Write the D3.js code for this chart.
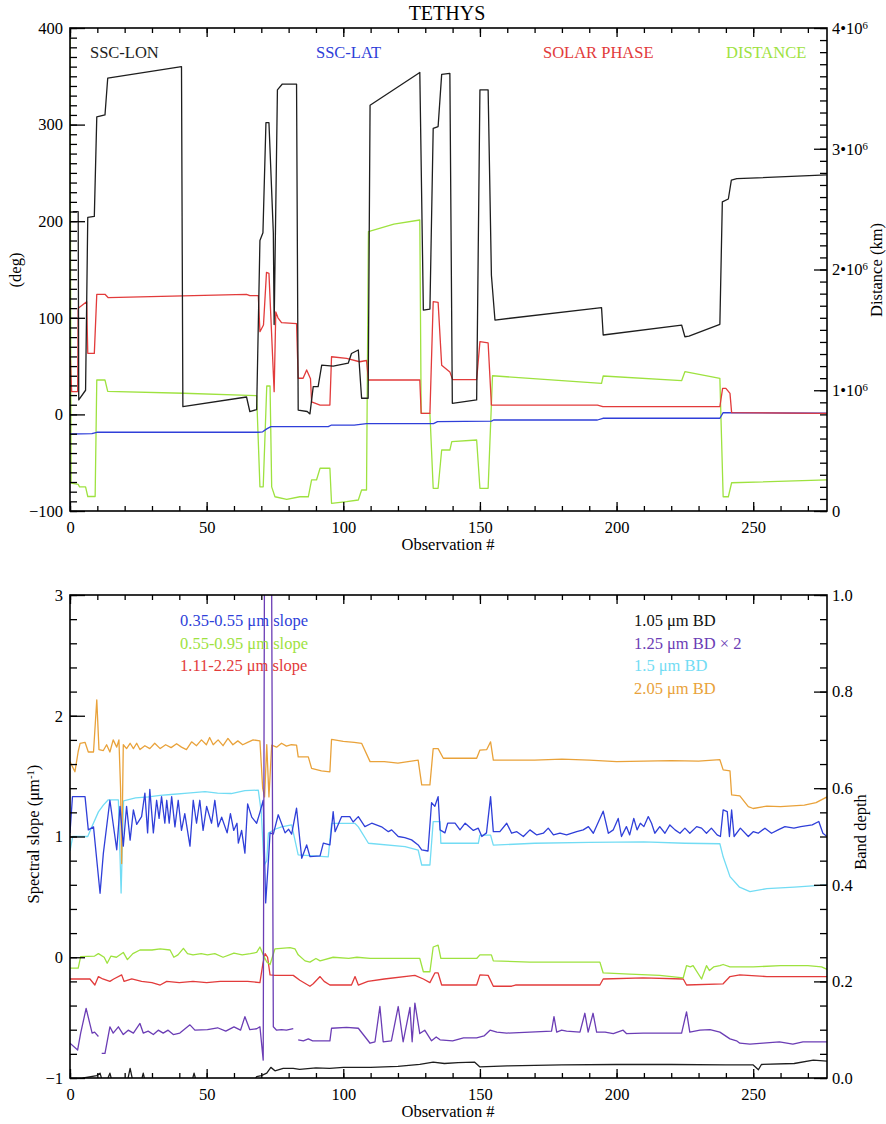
<!DOCTYPE html>
<html><head><meta charset="utf-8">
<script src="https://cdn.jsdelivr.net/npm/d3@7"></script>
<style>
body{margin:0;background:#fff}
text{font-family:"Liberation Serif","Times New Roman",serif}
</style>
</head><body>
<svg id="c" width="886" height="1124"></svg>
<script>
// ---------- DATA (observation #, value) ----------
const obsTicks = [0,50,100,150,200,250];
const degTicks = [-100,0,100,200,300,400];
const distTicks = [0,1e6,2e6,3e6,4e6];
const slopeTicks = [-1,0,1,2,3];
const bdTicks = [0,0.2,0.4,0.6,0.8,1.0];

const topLegend = ["SSC-LON","SSC-LAT","SOLAR PHASE","DISTANCE"];
const slopeLegend = ["0.35-0.55 \u03bcm slope","0.55-0.95 \u03bcm slope","1.11-2.25 \u03bcm slope"];
const bdLegend = ["1.05 \u03bcm BD","1.25 \u03bcm BD \u00d7 2","1.5 \u03bcm BD","2.05 \u03bcm BD"];

// Top panel (deg, left axis)
const sscLon = [[1,210],[3,210],[3.2,15],[5.7,25],[6.5,204],[8.9,205],[9.8,308],[12.8,310],[13.8,348],[40.8,360],[41.3,8],[64.6,18],[65.8,3],[68.3,5],[69.5,180],[70.6,188],[71.7,302],[72.8,302],[74.4,188],[74.7,93],[75.9,336],[77.7,342],[82.9,342],[83.5,4.5],[86.8,3],[87.8,0.5],[89,28.7],[90.8,28.7],[92.1,51],[96.3,50],[101.8,53],[103,63],[105.5,66.7],[106.7,16.7],[109.1,16.7],[109.8,320],[128,354],[129.3,108],[131.7,109],[132.9,296],[134.7,298],[136,352],[139,353],[139.9,11.5],[148.8,15],[150,336],[153,336],[154.2,144],[155.5,97.7],[194.5,110.5],[195.1,82.2],[223.8,92.5],[225,80.4],[226.5,81],[237.8,93.3],[238.7,220],[240.9,223],[242,242.6],[244,244],[276.9,248]];
const sscLat = [[0,-20.3],[8,-20],[9.8,-18.5],[68.9,-18.5],[70.5,-18],[72,-15],[73.5,-12.7],[94.5,-12.7],[95.7,-11],[104,-11],[108.5,-9.5],[133,-9.5],[134.5,-7.5],[154.2,-7],[155,-5.8],[193,-5.8],[195,-4],[237.8,-4],[239,1.8],[277,1.2]];
const solarPhase = [[0,66.7],[0.6,23.5],[2.8,23.5],[3,109.8],[6.1,116.7],[6.5,63.2],[8.9,63.2],[9.8,124.3],[12.8,124.3],[14,120.8],[64.6,124.3],[65.8,123],[68.9,123],[69.5,85.6],[70.8,92.5],[71.9,147],[72.8,146],[74.7,23.5],[75.3,106],[76.1,100],[77.4,95],[82.9,94],[83.5,37.4],[85.3,37.4],[86.6,46],[88,37],[88.4,13],[91.5,9.7],[95.1,9.7],[95.7,59.7],[101.2,58],[106,54.5],[108.5,55.8],[109.2,35.6],[128,35.6],[128.5,1.1],[131.7,1],[132.9,116.7],[134.7,116],[136,51],[139,44],[140,36],[148.8,36],[150,75.3],[153,74],[154.2,9.7],[193,9.7],[195,8],[237.8,8],[238.8,27],[240,27],[241.5,21.8],[242.1,1.8],[277,1.1]];
// Distance (km, right axis)
const distance = [[0,3.95e6],[0.4,0.23e6],[3,0.22e6],[3.5,0.2e6],[5.7,0.2e6],[6.5,0.12e6],[9.2,0.12e6],[9.8,1.085e6],[12.8,1.085e6],[13.8,0.99e6],[41.5,0.975e6],[68.3,0.955e6],[69.5,0.2e6],[70.7,0.2e6],[72,1.035e6],[73.2,1.035e6],[73.8,0.2e6],[75,0.118e6],[79.3,0.097e6],[84.1,0.118e6],[87.2,0.118e6],[88.4,0.257e6],[90.2,0.257e6],[91.5,0.354e6],[95.1,0.354e6],[95.7,0.064e6],[101.2,0.077e6],[105.5,0.091e6],[106.7,0.174e6],[108.5,0.174e6],[109.2,2.313e6],[118.5,2.375e6],[128,2.41e6],[128.5,0.809e6],[131.7,0.809e6],[132.9,0.188e6],[134.7,0.188e6],[136,0.505e6],[139,0.505e6],[139.7,0.574e6],[148.8,0.588e6],[150,0.188e6],[153,0.188e6],[154.6,1.12e6],[194.5,1.057e6],[195.1,1.118e6],[223.8,1.079e6],[225,1.154e6],[237.8,1.099e6],[239,0.118e6],[240.9,0.118e6],[242.1,0.234e6],[277,0.257e6]];

// Bottom panel, spectral slopes (left axis)
const slope035 = [[0,1.03],[0.9,1.33],[5.5,1.33],[6.7,1.055],[8.6,1.08],[11,0.53],[12.2,0.86],[14.6,1.3],[17.1,0.89],[18.3,1.25],[19.5,0.92],[20.7,1.25],[22,0.97],[23.2,1.22],[24.4,1.1],[26.2,1.165],[27.4,1.36],[28.4,1.03],[29.2,1.39],[30.5,1.03],[31.7,1.3],[32.6,1.15],[33.5,1.33],[34.7,1.11],[35.4,1.3],[36.3,1.11],[37.2,1.33],[38.4,1.08],[39.6,1.3],[40.8,1.05],[42,1.19],[43.9,0.92],[45.1,1.3],[46.3,1.11],[47.5,1.3],[48.7,1.05],[50,1.25],[51.8,1.11],[53,1.3],[54.2,1.08],[55.5,1.16],[57.5,1.03],[58.7,1.19],[59.9,1.05],[61.1,1.11],[61.6,0.945],[62.8,1.05],[64,0.862],[65,1.27],[66.5,1.16],[68.3,1.11],[69.5,1.2],[70.7,1.3],[71.6,0.45],[72.6,0.8],[73.2,1.03],[74.4,1.02],[76.2,1.18],[78.7,1.03],[80,1.06],[81.1,1.02],[82.9,1.234],[84.8,0.82],[86.6,0.93],[87.8,0.833],[91.5,0.84],[92.7,0.945],[95.1,0.93],[96.3,1.206],[97,1.04],[99.4,1.165],[102.4,1.165],[103.6,1.12],[105.5,1.165],[107.9,1.082],[110.4,1.11],[114,1.08],[116.5,1.04],[117.7,1.055],[120.1,1.0],[122.5,0.99],[125,0.972],[127.4,0.93],[128.7,0.89],[131,0.88],[132.3,1.28],[133.5,1.25],[134.7,1.33],[135.4,1.055],[137.2,1.03],[138.2,1.11],[140.9,1.11],[142.7,1.055],[144.6,1.11],[147.6,1.05],[149.4,1.069],[150.7,1.0],[152.4,1.03],[153.9,1.33],[154.9,1.04],[157.3,1.04],[159.8,1.11],[161.6,1.027],[163.5,1.04],[165.9,1.0],[168.3,1.055],[170.8,1.013],[173.2,1.027],[175,1.069],[176.9,1.013],[179.3,1.027],[181.7,1.013],[185.4,1.04],[187.8,1.055],[189.7,1.082],[191.5,1.027],[195.1,1.21],[197,1.027],[198.8,1.055],[200.6,1.15],[201.8,1.0],[203.6,1.082],[204.8,1.013],[206.3,1.15],[207.5,1.055],[208.7,1.11],[210,1.082],[211.6,1.165],[212.8,1.11],[214,1.027],[215.8,1.082],[217.7,1.027],[219.5,1.096],[221.4,1.055],[223.2,1.027],[225,1.069],[226.8,1.027],[229.3,1.082],[231.1,1.069],[232.9,1.027],[234.7,1.069],[236.8,1.013],[238,1.0],[239,1.22],[240.5,1.206],[241.3,1.0],[242.1,1.22],[243,1.0],[245.3,1.069],[248.2,1.0],[250,1.04],[251.8,1.027],[254.3,1.069],[256.7,1.027],[259.1,1.055],[261.6,1.082],[264.9,1.069],[267.4,1.082],[271.6,1.096],[274,1.124],[275.5,1.027],[277,1.0]];
const slope055 = [[0,-0.09],[3,-0.09],[3.9,0.005],[9,0.01],[10.4,0.03],[12.5,0.0],[13.6,-0.05],[15,0.01],[17,0.0],[19.5,0.04],[21,-0.02],[23,0.03],[25.6,0.06],[30,0.06],[33,0.07],[36.6,0.06],[38,0.0],[39.5,0.02],[41.5,0.074],[43,0.03],[45,0.02],[48,0.03],[50.3,0.02],[53,0.03],[56,0.0],[60,0.035],[63,0.02],[66,0.03],[68.3,0.04],[69.5,0.085],[70.7,0.02],[72,-0.04],[73.2,-0.06],[75,0.07],[80.5,0.08],[82.3,0.07],[83.5,0.02],[86,-0.03],[87.8,-0.04],[90,-0.01],[91.5,-0.03],[96.3,0.0],[102,-0.01],[105,0.0],[109.8,-0.01],[118,-0.01],[128,-0.01],[129.3,-0.12],[131.7,-0.12],[132.9,0.085],[134.7,0.1],[135.7,-0.01],[148.8,-0.01],[150,0.02],[154.2,0.02],[154.9,-0.03],[168.3,-0.04],[193.9,-0.04],[195.1,-0.13],[204.8,-0.14],[215.8,-0.15],[224.4,-0.17],[225.6,-0.07],[227,-0.08],[228,-0.07],[231.1,-0.18],[232.9,-0.07],[234,-0.11],[235.5,-0.08],[237.8,-0.07],[239,-0.06],[241.5,-0.08],[250,-0.08],[260,-0.07],[270,-0.07],[275,-0.08],[277,-0.1]];
const slope111 = [[0,-0.18],[7.3,-0.18],[9.1,-0.23],[10.4,-0.16],[12,-0.18],[14.6,-0.2],[16,-0.18],[18.9,-0.146],[19.8,-0.2],[22.6,-0.18],[26.2,-0.2],[30,-0.21],[33,-0.23],[35.4,-0.2],[40,-0.21],[45,-0.2],[50,-0.21],[55,-0.2],[60,-0.2],[65,-0.2],[69.5,-0.21],[70.6,-0.05],[71.4,0.03],[72.3,0.0],[73.2,-0.146],[75,-0.15],[81.7,-0.15],[84.1,-0.19],[87.8,-0.24],[89,-0.22],[91.5,-0.16],[93,-0.2],[95.1,-0.23],[103,-0.23],[104.3,-0.16],[105.5,-0.23],[109,-0.2],[115,-0.18],[126.2,-0.15],[129.3,-0.18],[131.7,-0.21],[133.5,-0.13],[134.7,-0.13],[136,-0.23],[148.8,-0.23],[150,-0.146],[153,-0.15],[154.9,-0.24],[161.6,-0.24],[163,-0.23],[193.9,-0.23],[195.1,-0.18],[209.7,-0.17],[224.4,-0.18],[225.6,-0.23],[239,-0.22],[241.5,-0.16],[245.1,-0.146],[255,-0.16],[265,-0.16],[277,-0.16]];

// Bottom panel, band depths (right axis)
const bd105 = [[0,-0.01],[3,-0.005],[4.9,0.0],[9.8,0.005],[11,0.01],[12.5,-0.02],[14.6,0.01],[16,-0.02],[20.5,-0.02],[22,0.02],[23.5,-0.02],[25.5,-0.02],[26.8,0.01],[28,-0.02],[44,-0.02],[45.4,0.01],[46.8,-0.02],[66,-0.02],[68.3,0.003],[70,0.005],[72,0.01],[73.5,0.022],[75,0.015],[78,0.02],[81.7,0.02],[84,0.018],[90,0.021],[95,0.02],[100,0.022],[110,0.022],[120,0.024],[128,0.028],[132.9,0.033],[137,0.03],[142,0.032],[148,0.033],[150,0.023],[160,0.025],[180,0.027],[200,0.028],[220,0.028],[240,0.027],[250,0.027],[251.9,0.017],[253,0.028],[265,0.03],[272,0.037],[277,0.035]];
// 1.25 um BD (plotted x2); null marks a gap
const bd125 = [[0,0.036],[2.8,0.029],[3.9,0.0465],[5.9,0.072],[8.1,0.0465],[9,0.0475],[10.4,0.043],[11,null],[11.6,0.0255],[12.8,0.0255],[14.6,0.053],[15.8,0.0465],[17.7,0.053],[19.5,0.045],[21.3,0.0495],[23.2,0.0465],[25.6,0.0565],[26.8,0.0465],[28.6,0.0485],[30.5,0.045],[32.3,0.0495],[34.1,0.0465],[35.9,0.0495],[37.8,0.045],[40.2,0.0465],[43.9,0.055],[45.7,0.0495],[50.3,0.05],[54,0.052],[57,0.0485],[60,0.053],[62.4,0.0495],[64,0.0635],[65.8,0.05],[68.3,0.051],[69.5,0.053],[70.7,0.0185],[71.4,0.8],[73.4,0.8],[74.4,0.053],[75.6,0.0495],[77.4,0.05],[79.2,0.0495],[81.7,0.051],[82.5,null],[83.5,0.0395],[85.4,0.0385],[87.2,0.0405],[88.8,0.0385],[95.1,0.0385],[95.7,0.0515],[101.2,0.0525],[105.5,0.0515],[109.8,0.036],[111.6,0.0375],[113.4,0.074],[114.6,0.0375],[117.6,0.0385],[120.1,0.074],[121.9,0.0375],[124.4,0.073],[125.2,0.0375],[126.2,0.0775],[128,0.046],[129.8,0.0495],[132.3,0.0385],[134,0.0425],[135.4,0.0395],[140,0.0385],[144,0.0415],[148.8,0.0415],[151.5,0.0435],[153.7,0.0495],[156.2,0.0475],[159.8,0.0465],[168.3,0.0475],[176.2,0.0485],[177.1,0.0635],[178.1,0.0475],[179.9,0.0495],[181.7,0.0485],[186.6,0.0475],[188.4,0.067],[189.6,0.0475],[191.4,0.067],[192.7,0.0475],[195.8,0.0475],[198.8,0.046],[202.4,0.0495],[203.6,0.046],[209.7,0.0465],[217,0.0465],[223.8,0.0465],[225.6,0.0685],[226.8,0.0475],[230.5,0.0495],[234.2,0.05],[237.8,0.0475],[241.5,0.0405],[243.9,0.0385],[245.1,0.036],[248.8,0.035],[253.6,0.036],[259.6,0.0375],[264.5,0.035],[268.2,0.0375],[277,0.0375]];
const bd15 = [[0,0.47],[1,0.5],[6.5,0.5],[8,0.52],[10.4,0.551],[12.2,0.565],[14,0.576],[17.7,0.576],[18.7,0.383],[19.6,0.574],[24,0.58],[28.7,0.582],[33,0.585],[37,0.587],[43,0.59],[49.4,0.593],[54,0.59],[59,0.589],[64,0.595],[68.9,0.596],[70,0.55],[71,0.44],[72,0.45],[72.6,0.507],[75,0.515],[77.4,0.52],[81.1,0.524],[83.5,0.462],[94.5,0.458],[95.7,0.527],[104.3,0.527],[105.5,0.52],[109.2,0.486],[122.6,0.479],[127.4,0.472],[128.7,0.441],[131.7,0.441],[132.9,0.531],[135.4,0.531],[135.7,0.486],[149.4,0.486],[150,0.503],[153.9,0.503],[154.9,0.482],[170,0.486],[190,0.488],[210,0.489],[225,0.486],[237.8,0.485],[239,0.458],[241.5,0.417],[245,0.395],[248.8,0.386],[255,0.392],[265,0.395],[277,0.4]];
const bd205 = [[0,0.655],[1.8,0.634],[3,0.676],[3.7,0.693],[5.5,0.695],[6.7,0.675],[8.6,0.675],[9.8,0.783],[10.6,0.68],[12.2,0.678],[13.4,0.69],[14.6,0.675],[15.8,0.7],[17.1,0.685],[17.9,0.7],[18.5,0.6],[18.9,0.444],[19.5,0.69],[20.7,0.682],[22,0.693],[23.2,0.682],[24.4,0.693],[25.6,0.68],[27.4,0.688],[29.2,0.682],[31,0.693],[33,0.682],[35,0.69],[37,0.684],[39,0.692],[40.8,0.685],[42.6,0.68],[44.5,0.696],[46.3,0.688],[48.1,0.7],[49.9,0.69],[51.1,0.705],[52.4,0.69],[54.2,0.7],[56,0.688],[57.8,0.703],[59.6,0.69],[61.4,0.698],[63.2,0.69],[65,0.695],[67,0.7],[69.5,0.698],[70.5,0.6],[71.2,0.582],[72,0.69],[72.8,0.582],[73.8,0.689],[75.6,0.685],[77.4,0.693],[79.2,0.687],[81,0.69],[82.9,0.689],[83.5,0.665],[87.2,0.665],[88.4,0.641],[92,0.636],[95.1,0.634],[95.7,0.701],[100,0.697],[104,0.695],[106.7,0.693],[109.8,0.655],[115,0.655],[120,0.652],[127.4,0.658],[128.7,0.607],[131.7,0.607],[132.9,0.682],[134.7,0.682],[136.6,0.662],[148.8,0.662],[150,0.679],[152.5,0.68],[153.9,0.696],[154.9,0.658],[170,0.658],[180,0.66],[190,0.658],[200,0.655],[210,0.656],[220,0.657],[230,0.656],[237.8,0.659],[239,0.638],[241.5,0.636],[242.1,0.586],[245.1,0.584],[248.2,0.562],[250,0.558],[255,0.563],[260,0.562],[268.7,0.565],[273,0.57],[277,0.582]];

// ---------- DRAWING ----------
const C = {black:"#1e1e1e", blue:"#2f3fd9", red:"#e23b3b", green:"#9ee23f",
           purple:"#6b3db5", cyan:"#72dcf4", orange:"#e9a23a"};
const FS = 16.5;
const svg = d3.select("#c");
const X0 = 70, X1 = 827;
const x = d3.scaleLinear().domain([0,277]).range([X0,X1]);

svg.append("text").attr("x",447).attr("y",20).attr("text-anchor","middle")
  .attr("font-size",20).text("TETHYS");

function styleAxis(g){
  g.select(".domain").remove();
  g.selectAll(".tick line").attr("stroke","#000").attr("stroke-width",1.3);
  g.attr("font-size",FS).attr("font-family",null);
  g.selectAll(".tick text").attr("fill","#000");
}

function panel(top, bot, yL, yR, o){
  const g = svg.append("g");
  const clipId = "clip"+top;
  svg.append("clipPath").attr("id",clipId).append("rect")
    .attr("x",X0).attr("y",top).attr("width",X1-X0).attr("height",bot-top);
  const plot = g.append("g").attr("clip-path",`url(#${clipId})`);

  o.series.forEach(s=>{
    const sc = s.axis==="L" ? yL : yR;
    const k = s.mult || 1;
    const line = d3.line().defined(d=>d[1]!==null)
      .x(d=>x(d[0])).y(d=>sc(d[1]*k));
    plot.append("path").datum(s.data).attr("d",line).attr("fill","none")
      .attr("stroke",s.color).attr("stroke-width",1.3).attr("stroke-linejoin","round");
  });

  // x axes
  g.append("g").attr("transform",`translate(0,${bot})`)
    .call(d3.axisBottom(x).tickValues(d3.range(0,277,10)).tickSize(-5).tickFormat("")).call(styleAxis);
  g.append("g").attr("transform",`translate(0,${bot})`)
    .call(d3.axisBottom(x).tickValues(obsTicks).tickSize(-9).tickPadding(10.5).tickFormat(d3.format("d"))).call(styleAxis);
  g.append("g").attr("transform",`translate(0,${top})`)
    .call(d3.axisTop(x).tickValues(d3.range(0,277,10)).tickSize(-5).tickFormat("")).call(styleAxis);
  g.append("g").attr("transform",`translate(0,${top})`)
    .call(d3.axisTop(x).tickValues(obsTicks).tickSize(-9).tickFormat("")).call(styleAxis);

  // left axis
  g.append("g").attr("transform",`translate(${X0},0)`)
    .call(d3.axisLeft(yL).tickValues(o.leftMinor).tickSize(-7).tickFormat("")).call(styleAxis);
  g.append("g").attr("transform",`translate(${X0},0)`)
    .call(d3.axisLeft(yL).tickValues(o.leftTicks).tickSize(-15).tickPadding(7).tickFormat(o.leftFmt)).call(styleAxis);
  // right axis
  g.append("g").attr("transform",`translate(${X1},0)`)
    .call(d3.axisRight(yR).tickValues(o.rightMinor).tickSize(-7).tickFormat("")).call(styleAxis);
  const ra = g.append("g").attr("transform",`translate(${X1},0)`)
    .call(d3.axisRight(yR).tickValues(o.rightTicks).tickSize(-13).tickPadding(5).tickFormat(o.rightFmt)).call(styleAxis);
  if(o.rightSup){
    ra.selectAll(".tick text").each(function(d){
      const t = d3.select(this); t.text(null);
      if(d===0){ t.text("0"); return; }
      t.append("tspan").text((d/1e6)+"\u202210");
      t.append("tspan").attr("dy","-0.45em").attr("font-size","0.65em").text("6");
    });
  }

  // frame
  g.append("rect").attr("x",X0).attr("y",top).attr("width",X1-X0).attr("height",bot-top)
    .attr("fill","none").attr("stroke","#000").attr("stroke-width",1.6);

  // x label
  g.append("text").attr("x",448).attr("y",bot+39).attr("text-anchor","middle")
    .attr("font-size",FS).text("Observation #");
  return g;
}

// ---- top panel ----
const T0 = 28, T1 = 511;
const yDeg = d3.scaleLinear().domain([-100,400]).range([T1,T0]);
const yDist = d3.scaleLinear().domain([0,4e6]).range([T1,T0]);
panel(T0,T1,yDeg,yDist,{
  leftTicks:degTicks, leftMinor:d3.range(-100,401,10), leftFmt:d3.format("d"),
  rightTicks:distTicks, rightMinor:d3.range(0,4e6+1,1e5), rightFmt:d3.format("d"), rightSup:true,
  series:[
    {data:distance, color:C.green, axis:"R"},
    {data:sscLat, color:C.blue, axis:"L"},
    {data:solarPhase, color:C.red, axis:"L"},
    {data:sscLon, color:C.black, axis:"L"}
  ]
});
[[90,C.black],[316,C.blue],[543,C.red],[726,C.green]].forEach((p,i)=>{
  svg.append("text").attr("x",p[0]).attr("y",58).attr("font-size",FS).attr("fill",p[1]).text(topLegend[i]);
});
svg.append("text").attr("transform","translate(21,270) rotate(-90)").attr("text-anchor","middle")
  .attr("font-size",FS).text("(deg)");
svg.append("text").attr("transform","translate(882,270) rotate(-90)").attr("text-anchor","middle")
  .attr("font-size",FS).text("Distance (km)");

// ---- bottom panel ----
const B0 = 595, B1 = 1078;
const ySlope = d3.scaleLinear().domain([-1,3]).range([B1,B0]);
const yBD = d3.scaleLinear().domain([0,1]).range([B1,B0]);
panel(B0,B1,ySlope,yBD,{
  leftTicks:slopeTicks, leftMinor:d3.range(-1,3.001,0.2), leftFmt:d3.format("d"),
  rightTicks:bdTicks, rightMinor:d3.range(0,1.001,0.05), rightFmt:d3.format(".1f"),
  series:[
    {data:bd105, color:C.black, axis:"R"},
    {data:slope111, color:C.red, axis:"L"},
    {data:slope055, color:C.green, axis:"L"},
    {data:bd15, color:C.cyan, axis:"R"},
    {data:bd205, color:C.orange, axis:"R"},
    {data:slope035, color:C.blue, axis:"L"},
    {data:bd125, color:C.purple, axis:"R", mult:2}
  ]
});
[C.blue,C.green,C.red].forEach((c,i)=>{
  svg.append("text").attr("x",180).attr("y",626+i*22.5).attr("font-size",FS).attr("fill",c).text(slopeLegend[i]);
});
["#111",C.purple,C.cyan,C.orange].forEach((c,i)=>{
  svg.append("text").attr("x",634).attr("y",626+i*22.5).attr("font-size",FS).attr("fill",c).text(bdLegend[i]);
});
const sl = svg.append("text").attr("transform","translate(39,834) rotate(-90)").attr("text-anchor","middle")
  .attr("font-size",FS);
sl.append("tspan").text("Spectral slope (\u03bcm");
sl.append("tspan").attr("dy","-0.45em").attr("font-size","0.65em").text("-1");
sl.append("tspan").attr("dy","0.29em").text(")");
svg.append("text").attr("transform","translate(866,832) rotate(-90)").attr("text-anchor","middle")
  .attr("font-size",FS).text("Band depth");
</script>
</body></html>
